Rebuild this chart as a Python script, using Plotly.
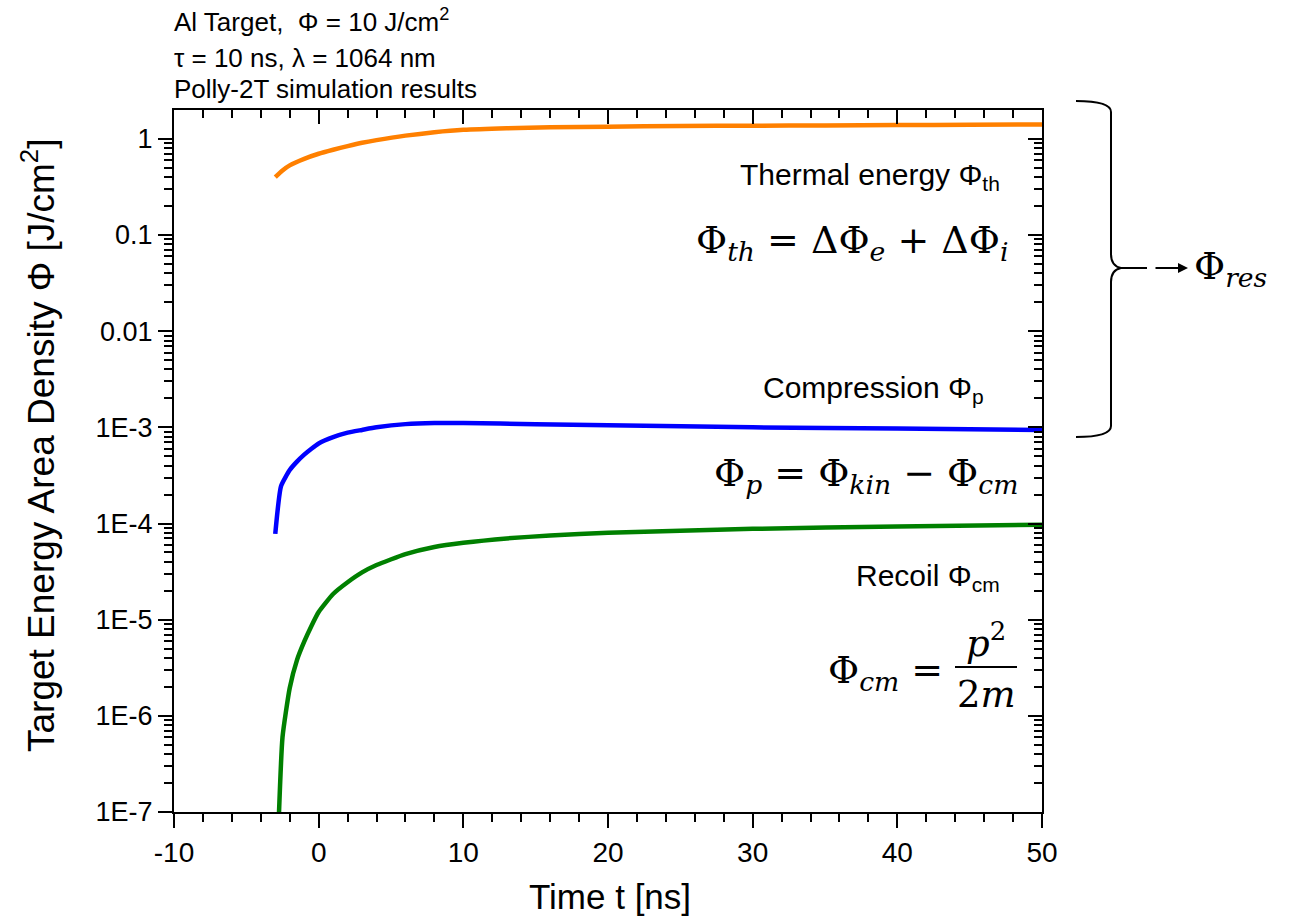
import plotly.graph_objects as go

# Polly-2T results: energy area density components vs time
t_thermal = [-3.0, -2.5, -2.0, -1.0, 0.0, 1.0, 2.0, 3.0, 4.0, 6.0, 8.0, 10.0, 13.0, 16.0, 20.0, 25.0, 30.0, 35.0, 40.0, 45.0, 50.0]
phi_thermal = [0.40, 0.47, 0.53, 0.62, 0.70, 0.77, 0.84, 0.91, 0.97, 1.08, 1.17, 1.24, 1.29, 1.32, 1.34, 1.36, 1.37, 1.38, 1.39, 1.40, 1.41]

t_compr = [-3.0, -2.6, -2.0, -1.5, -1.0, -0.5, 0.0, 1.0, 2.0, 3.0, 4.0, 6.0, 8.0, 10.0, 15.0, 20.0, 30.0, 40.0, 50.0]
phi_compr = [7.8e-5, 2.45e-4, 3.6e-4, 4.4e-4, 5.2e-4, 6.0e-4, 6.8e-4, 7.9e-4, 8.8e-4, 9.4e-4, 1.0e-3, 1.08e-3, 1.11e-3,
             1.11e-3, 1.08e-3, 1.05e-3, 1.0e-3, 9.7e-4, 9.4e-4]

t_recoil = [-2.74, -2.5, -2.0, -1.5, -1.0, -0.5, 0.0, 1.0, 2.0, 3.0, 4.0, 6.0, 8.0, 10.0, 13.0, 16.0, 20.0, 25.0, 30.0, 40.0, 50.0]
phi_recoil = [1.0e-7, 6.0e-7, 1.95e-6, 3.8e-6, 5.9e-6, 8.6e-6, 1.2e-5, 1.85e-5, 2.45e-5, 3.1e-5, 3.7e-5, 4.8e-5, 5.7e-5,
              6.3e-5, 7.0e-5, 7.5e-5, 8.0e-5, 8.4e-5, 8.8e-5, 9.3e-5, 9.7e-5]

y_tickvals = [1e-7, 1e-6, 1e-5, 1e-4, 1e-3, 1e-2, 1e-1, 1]
y_ticktext = ["1E-7", "1E-6", "1E-5", "1E-4", "1E-3", "0.01", "0.1", "1"]
x_tickvals = [-10, 0, 10, 20, 30, 40, 50]

SANS = "Liberation Sans, Arial, sans-serif"
SERIF = "DejaVu Serif, Liberation Serif, serif"

W, H = 1305, 921
L, R, T, B = 174, 1042, 110, 812


def px(x):
    return (x - L) / (R - L)


def py(y):
    return (B - y) / (B - T)


y_minor = [k * 10.0 ** e for e in range(-7, 1) for k in range(2, 10)]

fig = go.Figure()
for tx, ty, col in [(t_thermal, phi_thermal, "#ff8000"),
                    (t_compr, phi_compr, "#0000ff"),
                    (t_recoil, phi_recoil, "#008000")]:
    fig.add_trace(go.Scatter(x=tx, y=ty, mode="lines", showlegend=False,
                             line=dict(color=col, width=4.5, shape="spline", smoothing=0.5)))
# empty trace that anchors the mirrored top/right axes
fig.add_trace(go.Scatter(x=[], y=[], xaxis="x2", yaxis="y2", showlegend=False))

common_x = dict(range=[-10, 50], tickvals=x_tickvals, showgrid=False, zeroline=False,
                showline=True, linecolor="black", linewidth=2, tickcolor="black", tickwidth=2)
common_y = dict(type="log", range=[-7, 0.30], showgrid=False, zeroline=False,
                showline=True, linecolor="black", linewidth=2, tickcolor="black", tickwidth=2)

fig.update_layout(
    width=W, height=H,
    margin=dict(l=L, r=W - R, t=T, b=H - B),
    plot_bgcolor="white", paper_bgcolor="white",
    font=dict(family=SANS, color="black"),
    xaxis=dict(**common_x, ticks="outside", ticklen=14, ticktext=[str(v) for v in x_tickvals],
               tickfont=dict(size=28),
               minor=dict(ticks="outside", ticklen=8, dtick=2, tickwidth=2, tickcolor="black")),
    xaxis2=dict(**common_x, overlaying="x", side="top", ticks="inside", ticklen=14,
                showticklabels=False,
                minor=dict(ticks="inside", ticklen=8, dtick=2, tickwidth=2, tickcolor="black")),
    yaxis=dict(**common_y, ticks="outside", ticklen=14, tickvals=y_tickvals, ticktext=y_ticktext,
               tickfont=dict(size=27),
               minor=dict(ticks="outside", ticklen=8, tickvals=y_minor, tickwidth=2, tickcolor="black")),
    yaxis2=dict(**common_y, overlaying="y", side="right", ticks="inside", ticklen=14,
                tickvals=y_tickvals, showticklabels=False,
                minor=dict(ticks="inside", ticklen=8, tickvals=y_minor, tickwidth=2, tickcolor="black")),
)

ann = []

# axis titles
ann.append(dict(x=px(610), y=py(896), xref="paper", yref="paper", text="Time t [ns]", showarrow=False,
                xanchor="center", yanchor="middle", font=dict(size=35, family=SANS)))
ann.append(dict(x=px(38), y=py(445), xref="paper", yref="paper",
                text="Target Energy Area Density Φ [J/cm<sup>2</sup>]", showarrow=False, textangle=-90,
                xanchor="center", yanchor="middle", font=dict(size=37, family=SANS)))

# header lines
for text, ycen in [("Al Target,  Φ = 10 J/cm<sup>2</sup>", 20),
                   ("τ = 10 ns, λ = 1064 nm", 58),
                   ("Polly-2T simulation results", 89)]:
    ann.append(dict(x=px(172), y=py(ycen), xref="paper", yref="paper", text=text, showarrow=False,
                    xanchor="left", yanchor="middle", font=dict(size=26, family=SANS)))

# curve labels
for text, xr, ycen in [("Thermal energy Φ<sub>th</sub>", 1002, 176),
                       ("Compression Φ<sub>p</sub>", 986, 389),
                       ("Recoil Φ<sub>cm</sub>", 1002, 577)]:
    ann.append(dict(x=px(xr), y=py(ycen), xref="paper", yref="paper", text=text, showarrow=False,
                    xanchor="right", yanchor="middle", font=dict(size=30, family=SANS)))

# relations
for text, xr, ycen in [("Φ<sub><i>th</i></sub> = ΔΦ<sub><i>e</i></sub> + ΔΦ<sub><i>i</i></sub>", 1010, 242),
                       ("Φ<sub><i>p</i></sub> = Φ<sub><i>kin</i></sub> − Φ<sub><i>cm</i></sub>", 1020, 476),
                       ("Φ<sub><i>cm</i></sub> =", 945, 672)]:
    ann.append(dict(x=px(xr), y=py(ycen), xref="paper", yref="paper", text=text, showarrow=False,
                    xanchor="right", yanchor="middle", font=dict(size=38, family=SERIF)))

ann.append(dict(x=px(986), y=py(640), xref="paper", yref="paper", text="<i>p</i><sup>2</sup>",
                showarrow=False, xanchor="center", yanchor="middle", font=dict(size=37, family=SERIF)))
ann.append(dict(x=px(986), y=py(694), xref="paper", yref="paper", text="2<i>m</i>",
                showarrow=False, xanchor="center", yanchor="middle", font=dict(size=37, family=SERIF)))

# arrow to the residual energy term
ann.append(dict(x=px(1188), y=py(268), xref="paper", yref="paper", text="", showarrow=True,
                ax=-34, ay=0, arrowhead=2, arrowsize=1, arrowwidth=2, arrowcolor="black"))
ann.append(dict(x=px(1192), y=py(268), xref="paper", yref="paper", text="Φ<sub><i>res</i></sub>",
                showarrow=False, xanchor="left", yanchor="middle", font=dict(size=38, family=SERIF)))

fig.update_layout(annotations=ann)

# fraction bar
fig.add_shape(type="line", xref="paper", yref="paper", x0=px(955), x1=px(1017), y0=py(667), y1=py(667),
              line=dict(color="black", width=2))


# curly brace grouping the thermal and compression terms
def P(x, y):
    return f"{px(x):.5f},{py(y):.5f}"


brace = (f"M {P(1076, 101)} Q {P(1111, 101)} {P(1111, 112)} "
         f"L {P(1111, 254)} Q {P(1111, 266)} {P(1121, 268)} "
         f"Q {P(1111, 270)} {P(1111, 282)} "
         f"L {P(1111, 426)} Q {P(1111, 437)} {P(1076, 437)} "
         f"M {P(1121, 268)} L {P(1147, 268)}")
fig.add_shape(type="path", xref="paper", yref="paper", path=brace, line=dict(color="black", width=2))

fig.write_html("out.html")
